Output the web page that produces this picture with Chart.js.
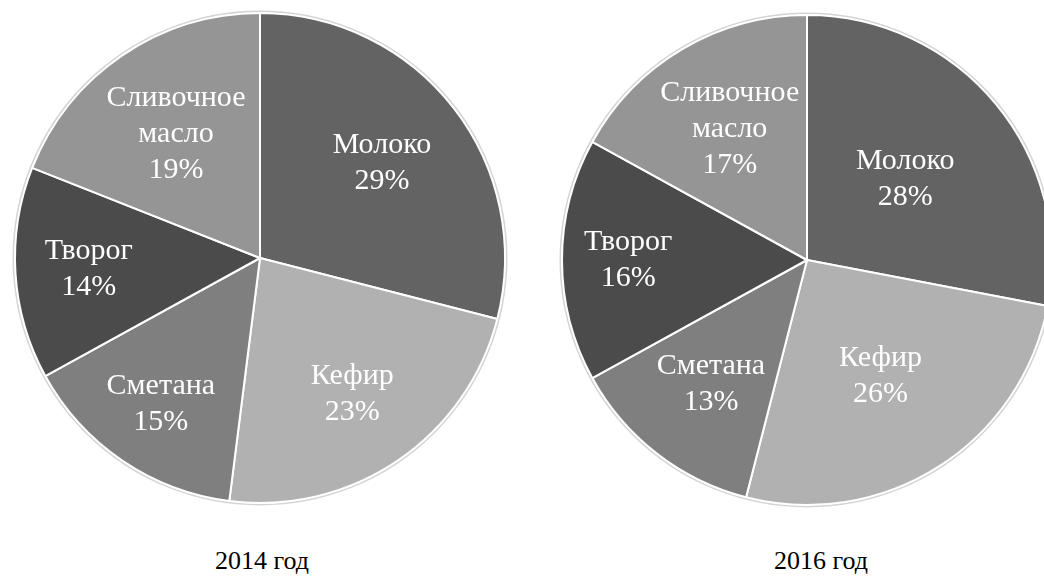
<!DOCTYPE html>
<html>
<head>
<meta charset="utf-8">
<script src="https://cdn.jsdelivr.net/npm/chart.js@4"></script>
<style>
    html, body { margin: 0; padding: 0; background: #fff; overflow: hidden; }
    body { width: 1044px; height: 578px; position: relative; }
    .box { position: absolute; top: 0; width: 520px; height: 520px; }
    .caption { position: absolute; top: 546px; width: 300px; text-align: center;
        font-family: "Liberation Serif", serif; font-size: 26px; color: #000; }
</style>
</head>
<body>
<div class="box" id="box2014" style="left:0px"><canvas id="pie2014"></canvas></div>
<div class="box" id="box2016" style="left:547px"><canvas id="pie2016"></canvas></div>
<div class="caption" style="left:112px">2014 год</div>
<div class="caption" style="left:671px">2016 год</div>
<script>
const categories = ["Молоко", "Кефир", "Сметана", "Творог", "Сливочное масло"];
const labelLines = [["Молоко"], ["Кефир"], ["Сметана"], ["Творог"], ["Сливочное", "масло"]];
const values2014 = [29, 23, 15, 14, 19];
const values2016 = [28, 26, 13, 16, 17];
const sliceColors = ["#636363", "#b1b1b1", "#7f7f7f", "#4b4b4b", "#959595"];
const labelFont = '30px "Liberation Serif"';

// draws the white labels inside each slice (no datalabels plugin here)
const sliceLabels = {
    id: 'sliceLabels',
    afterDatasetsDraw(chart, args, opts) {
        const ctx = chart.ctx;
        const meta = chart.getDatasetMeta(0);
        const data = chart.data.datasets[0].data;
        const total = data.reduce((a, b) => a + b, 0);
        ctx.save();
        ctx.font = labelFont;
        ctx.fillStyle = '#ffffff';
        ctx.textAlign = 'center';
        ctx.textBaseline = 'middle';
        meta.data.forEach((arc, i) => {
            const mid = (arc.startAngle + arc.endAngle) / 2;
            // Excel "best fit" puts labels at slightly different depths
            const r = arc.outerRadius * opts.factors[i];
            const x = arc.x + Math.cos(mid) * r;
            const y = arc.y + Math.sin(mid) * r;
            const lines = labelLines[i].concat([Math.round(data[i] / total * 100) + '%']);
            const lh = 36;
            const top = y - (lines.length - 1) * lh / 2;
            lines.forEach((t, k) => ctx.fillText(t, x, top + k * lh));
        });
        ctx.restore();
    }
};

// faint grey ring around the pie
const outerRing = {
    id: 'outerRing',
    beforeDatasetsDraw(chart) {
        const arc = chart.getDatasetMeta(0).data[0];
        if (!arc) return;
        const ctx = chart.ctx;
        ctx.save();
        ctx.beginPath();
        ctx.arc(arc.x, arc.y, arc.outerRadius + 1.5, 0, Math.PI * 2);
        ctx.strokeStyle = '#d4d4d4';
        ctx.lineWidth = 2;
        ctx.stroke();
        ctx.restore();
    }
};

function makePie(canvasId, values, padding, factors) {
    return new Chart(document.getElementById(canvasId), {
        type: 'pie',
        data: {
            labels: categories,
            datasets: [{
                data: values,
                backgroundColor: sliceColors,
                borderColor: '#ffffff',
                borderWidth: 2
            }]
        },
        options: {
            responsive: true,
            maintainAspectRatio: false,
            animation: false,
            layout: { padding: padding },
            plugins: {
                legend: { display: false },
                tooltip: { enabled: false },
                sliceLabels: { factors: factors }
            }
        },
        plugins: [outerRing, sliceLabels]
    });
}

// make sure the serif face is ready before the canvas text is drawn
document.fonts.load(labelFont, 'Молоко 29%').then(() => {
    makePie('pie2014', values2014, { left: 14, right: 14, top: 12, bottom: 16 }, [0.63, 0.67, 0.72, 0.70, 0.61]);
    makePie('pie2016', values2016, { left: 14, right: 14, top: 14, bottom: 14 }, [0.52, 0.56, 0.64, 0.73, 0.62]);
});
</script>
</body>
</html>
